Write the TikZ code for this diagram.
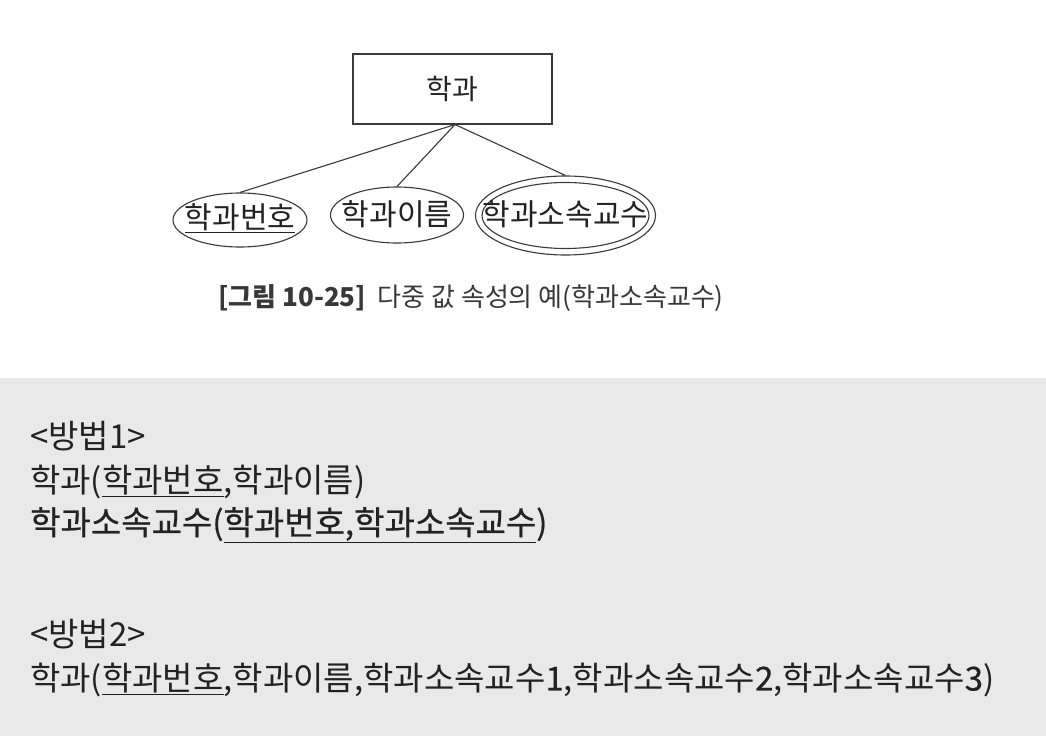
\documentclass[tikz,border=0pt]{standalone}
\usepackage{fontspec}
\setmainfont{Noto Sans CJK KR}
\newfontfamily\krheavy[FakeBold=0.6]{Noto Sans CJK KR}
\usetikzlibrary{shapes.geometric}
\definecolor{boxgray}{HTML}{E9E9E9}
\definecolor{ink}{HTML}{222222}
\definecolor{lineink}{HTML}{3A3A3A}
\tikzset{
  entity/.style={draw=lineink, line width=1.1pt, minimum width=199pt, minimum height=70pt, inner sep=0pt, text=ink, font=\fontsize{28}{32}\selectfont},
  attr/.style={ellipse, draw=lineink, line width=1.1pt, inner sep=0pt},
  attrtext/.style={inner sep=0pt, text=ink, font=\fontsize{30}{32}\selectfont},
  conn/.style={draw=lineink, line width=1.1pt},
  body/.style={anchor=west, inner sep=0pt, text=ink, font=\fontsize{33}{38}\selectfont},
  caption/.style={anchor=west, inner sep=0pt, text=ink!90, font=\fontsize{26}{30}\selectfont}
}
\begin{document}
\begin{tikzpicture}[x=1pt,y=-1pt]
\useasboundingbox (0,0) rectangle (1046,736);
\fill[white] (0,0) rectangle (1046,378);
\fill[boxgray] (0,378) rectangle (1046,736);
% ER diagram
\node[entity] (dept) at (452.5,89) {학과};
\node[attr, minimum width=134pt, minimum height=54pt] (dno) at (240,220) {};
\node[attrtext] (dnot) at (240,218) {\underline{학과번호}};
\node[attr, minimum width=133pt, minimum height=56pt] (dname) at (397,215) {};
\node[attrtext] (dnamet) at (397,214) {학과이름};
\node[attr, minimum width=180pt, minimum height=79pt] (dprof) at (565.5,215.5) {};
\node[attr, minimum width=167pt, minimum height=66pt] (dprofin) at (565.5,215.5) {};
\node[attrtext] (dproft) at (565.5,214) {학과소속교수};
\coordinate (dbot) at ([xshift=2.5pt]dept.south);
\draw[conn] (dbot) -- (dno.north);
\draw[conn] (dbot) -- (dname.north);
\draw[conn] (dbot) -- (dprof.north);
% caption
\node[caption] (cap) at (218,298) {\textbf{[그림 10-25]}\ \ 다중 값 속성의 예(학과소속교수)};
% relational schemas
\node[body] (m1) at (30,436) {<방법1>};
\node[body] (r1) at (30,482) {학과(\underline{학과번호},학과이름)};
\node[body] (r2) at (30,525) {\krheavy 학과소속교수(\underline{학과번호,학과소속교수})};
\node[body] (m2) at (30,634) {<방법2>};
\node[body] (r3) at (30,680) {학과(\underline{학과번호},학과이름,학과소속교수{\krheavy 1},학과소속교수{\krheavy 2},학과소속교수{\krheavy 3})};
\end{tikzpicture}
\end{document}
